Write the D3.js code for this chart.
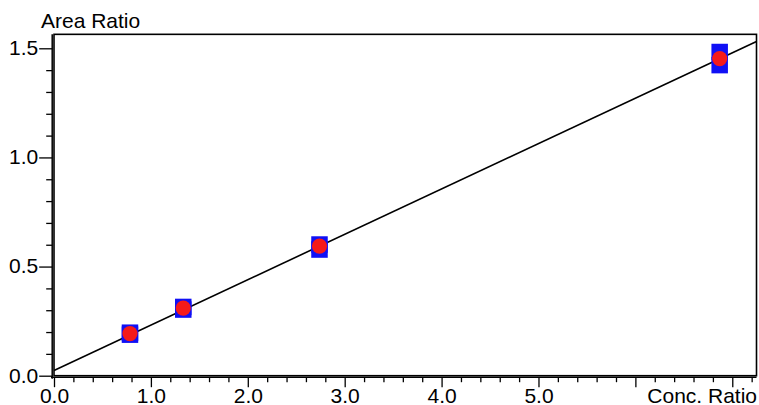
<!DOCTYPE html>
<html lang="en">
<head>
    <meta charset="UTF-8">
    <title>Calibration Curve</title>
    <script src="https://d3js.org/d3.v7.min.js"></script>
    <style>
        body {
            margin: 0;
            background-color: #fff;
        }
        svg {
            display: block;
            font-family: Arial, "Liberation Sans", sans-serif;
        }
        .axis path {
            stroke: #000;
            stroke-width: 1.5px;
        }
        .axis line {
            stroke: #000;
            stroke-width: 1.3px;
        }
        .axis text {
            font-size: 21px;
            fill: #000;
        }
    </style>
</head>
<body>
    <div id="chart"></div>

    <script>
        // Dados
        const concRatio = [0.784, 1.334, 2.74, 6.87];
        const areaRep1 = [0.197, 0.315, 0.601, 1.483];
        const areaRep2 = [0.188, 0.303, 0.578, 1.423];
        const areaMean = [0.193, 0.31, 0.594, 1.453];

        // Reta de calibração
        const slope = 0.2079;
        const intercept = 0.024;

        const xMajor = [0, 1, 2, 3, 4, 5, 6, 7];
        const xLabels = ["0.0", "1.0", "2.0", "3.0", "4.0", "5.0", "", ""];
        const yMajor = [0, 0.5, 1.0, 1.5];
        const yLabels = ["0.0", "0.5", "1.0", "1.5"];

        const width = 759;
        const height = 405;

        const x = d3.scaleLinear().domain([0, 7.25]).range([54, 756.5]);
        const y = d3.scaleLinear().domain([0, 1.5]).range([375.7, 48.3]);
        const yTop = 1.564;

        const svg = d3.select("#chart")
            .append("svg")
            .attr("width", width)
            .attr("height", height);

        // Moldura da área do gráfico
        svg.append("rect")
            .attr("x", x(0))
            .attr("y", y(yTop))
            .attr("width", x(7.25) - x(0))
            .attr("height", y(0) - y(yTop))
            .attr("fill", "none")
            .attr("stroke", "#000")
            .attr("stroke-width", 1.6);

        // Ticks menores
        const xMinor = d3.range(0, 7.25, 0.2).filter(v => Math.abs(v - Math.round(v)) > 0.01);
        const yMinor = d3.range(0, yTop, 0.1).filter(v => Math.abs(v * 2 - Math.round(v * 2)) > 0.01);

        const xAxisG = svg.append("g")
            .attr("class", "axis")
            .attr("transform", "translate(0,377.2)");

        xAxisG.append("g")
            .call(d3.axisBottom(x).tickValues(xMinor).tickSize(5).tickFormat(""))
            .call(g => g.select(".domain").remove());

        xAxisG.append("g")
            .call(d3.axisBottom(x).tickValues(xMajor).tickSize(10).tickSizeOuter(0)
                .tickFormat((d, i) => xLabels[i]))
            .call(g => g.select(".domain").attr("d", `M${x(0) - 3},0H${x(7.25)}`))
            .call(g => g.selectAll("text").attr("y", 25.8).attr("dy", null));

        // Rótulo do eixo X
        svg.append("text")
            .attr("x", 757)
            .attr("y", 403)
            .attr("text-anchor", "end")
            .attr("font-size", 21)
            .text("Conc. Ratio");

        const yAxisG = svg.append("g")
            .attr("class", "axis")
            .attr("transform", "translate(52.2,0)");

        yAxisG.append("g")
            .call(d3.axisLeft(y).tickValues(yMinor).tickSize(6).tickFormat(""))
            .call(g => g.select(".domain").remove());

        yAxisG.append("g")
            .call(d3.axisLeft(y).tickValues(yMajor).tickSize(13).tickSizeOuter(0)
                .tickPadding(1)
                .tickFormat((d, i) => yLabels[i]))
            .call(g => g.select(".domain").attr("d", `M0,${y(yTop)}V${y(0) + 3}`))
            .call(g => g.selectAll("text").attr("dy", "0.3em"));

        // Rótulo do eixo Y
        svg.append("text")
            .attr("x", 41)
            .attr("y", 28)
            .attr("font-size", 21)
            .text("Area Ratio");

        // Reta de regressão
        svg.append("line")
            .attr("x1", x(0))
            .attr("y1", y(intercept))
            .attr("x2", x(7.25))
            .attr("y2", y(intercept + slope * 7.25))
            .attr("stroke", "#000")
            .attr("stroke-width", 1.6);

        // Replicatas (quadrados azuis)
        const sq = 16.5;
        const reps = concRatio.flatMap((c, i) => [
            { c, v: areaRep1[i] },
            { c, v: areaRep2[i] }
        ]);

        svg.append("g")
            .selectAll("rect")
            .data(reps)
            .enter()
            .append("rect")
            .attr("x", d => x(d.c) - sq / 2)
            .attr("y", d => y(d.v) - sq / 2)
            .attr("width", sq)
            .attr("height", sq)
            .attr("fill", "#1010f5");

        // Médias (círculos vermelhos)
        svg.append("g")
            .selectAll("circle")
            .data(concRatio.map((c, i) => ({ c, v: areaMean[i] })))
            .enter()
            .append("circle")
            .attr("cx", d => x(d.c))
            .attr("cy", d => y(d.v))
            .attr("r", 7.6)
            .attr("fill", "#f51a1a");
    </script>
</body>
</html>
